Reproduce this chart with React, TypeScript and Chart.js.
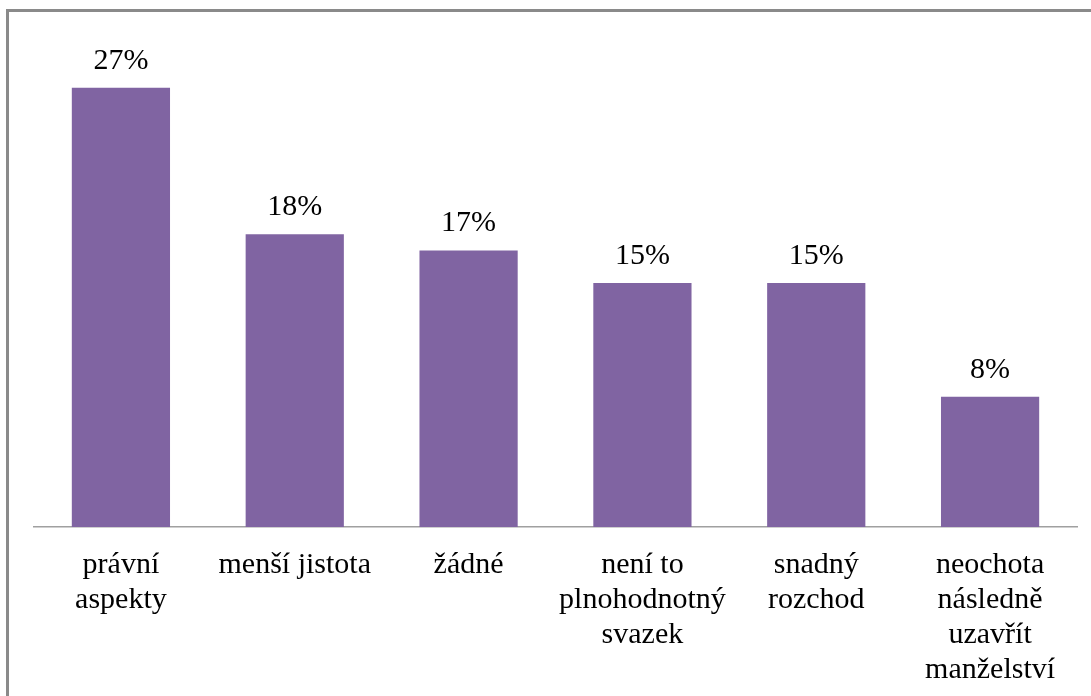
import React, { useEffect, useRef } from "react";
import { Chart, registerables } from "chart.js";

Chart.register(...registerables);

const categories: string[][] = [
  ["právní", "aspekty"],
  ["menší jistota"],
  ["žádné"],
  ["není to", "plnohodnotný", "svazek"],
  ["snadný", "rozchod"],
  ["neochota", "následně", "uzavřít", "manželství"],
];
const values: number[] = [27, 18, 17, 15, 15, 8];
const valueLabels: string[] = ["27%", "18%", "17%", "15%", "15%", "8%"];

const FONT = "'Liberation Serif', 'Times New Roman', serif";

const labelPlugin = {
  id: "valueLabels",
  afterDatasetsDraw(chart: any) {
    const ctx = chart.ctx;
    const meta = chart.getDatasetMeta(0);
    ctx.save();
    ctx.font = `30px ${FONT}`;
    ctx.fillStyle = "#000";
    ctx.textAlign = "center";
    ctx.textBaseline = "alphabetic";
    meta.data.forEach((bar: any, i: number) => {
      ctx.fillText(valueLabels[i], bar.x, bar.y - 19);
    });
    ctx.restore();
  },
};

export default function App() {
  const ref = useRef<HTMLCanvasElement>(null);
  useEffect(() => {
    const chart = new Chart(ref.current!, {
      type: "bar",
      data: {
        labels: categories,
        datasets: [
          {
            data: values,
            backgroundColor: "#8064A2",
            borderWidth: 0,
            categoryPercentage: 1,
            barPercentage: 0.565,
          },
        ],
      },
      options: {
        responsive: false,
        animation: false,
        layout: { padding: { left: 34, right: 14, top: 39, bottom: 0 } },
        plugins: { legend: { display: false }, tooltip: { enabled: false } },
        scales: {
          x: {
            grid: { display: false, drawTicks: false },
            border: { display: true, color: "#a0a0a0", width: 1.5 },
            ticks: {
              color: "#000",
              font: { family: FONT, size: 30, lineHeight: 1.16 },
              padding: 21,
              maxRotation: 0,
              autoSkip: false,
            },
            afterFit: (scale: any) => {
              scale.height = 169;
            },
          },
          y: {
            display: false,
            min: 0,
            max: 30,
          },
        },
      },
      plugins: [labelPlugin],
    });
    return () => chart.destroy();
  }, []);
  return (
    <>
      <div
        style={{
          position: "fixed",
          left: 6,
          top: 9,
          width: 1085,
          height: 687,
          borderTop: "3px solid #8a8a8a",
          borderLeft: "3px solid #8a8a8a",
          boxSizing: "border-box",
        }}
      />
      <canvas
        ref={ref}
        width={1091}
        height={696}
        style={{ position: "fixed", left: 0, top: 0 }}
      />
    </>
  );
}
